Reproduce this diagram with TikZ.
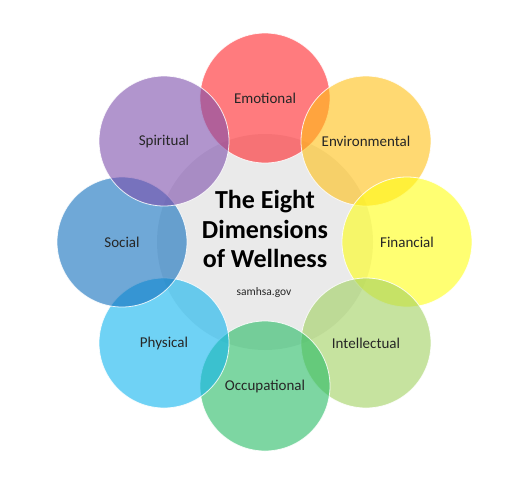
\documentclass[tikz,border=0pt]{standalone}
\usepackage{fontspec}
\setmainfont{Carlito}
\definecolor{cEmo}{RGB}{255,35,40}
\definecolor{cEnv}{RGB}{255,192,20}
\definecolor{cFin}{RGB}{255,255,20}
\definecolor{cInt}{RGB}{160,208,95}
\definecolor{cOcc}{RGB}{38,187,100}
\definecolor{cPhy}{RGB}{15,180,238}
\definecolor{cSoc}{RGB}{15,110,188}
\definecolor{cSpi}{RGB}{125,78,172}
\definecolor{cCenter}{RGB}{234,234,234}
\definecolor{cLabel}{RGB}{38,38,38}
\begin{document}
\begin{tikzpicture}[x=1pt,y=-1pt,
  dim/.style={circle, minimum size=130pt, inner sep=0pt, fill=#1, fill opacity=0.6,
    draw=white, draw opacity=0.85, line width=0.8pt, text opacity=1,
    text=cLabel, font=\fontsize{15}{18}\selectfont},
  hub/.style={circle, minimum size=216pt, inner sep=0pt, fill=cCenter}]
\useasboundingbox (0,0) rectangle (520,483);
\node[hub] (center) at (265,242) {};
\node[dim=cEmo] (emo) at (265,98) {Emotional};
\node[dim=cEnv] (env) at (366,141) {Environmental};
\node[dim=cFin] (fin) at (407,242) {Financial};
\node[dim=cInt] (int) at (366,343) {Intellectual};
\node[dim=cOcc] (occ) at (265,386) {Occupational};
\node[dim=cPhy] (phy) at (164,343) {Physical};
\node[dim=cSoc] (soc) at (122,242) {Social};
\node[dim=cSpi] (spi) at (164,141) {Spiritual};
\node[align=center, font=\fontsize{26}{29.5}\selectfont\bfseries, text=black] (title) at (265,229)
  {The Eight\\Dimensions\\of Wellness};
\node[font=\fontsize{11.5}{13}\selectfont, text=cLabel] (src) at (264,292) {samhsa.gov};
\end{tikzpicture}
\end{document}
